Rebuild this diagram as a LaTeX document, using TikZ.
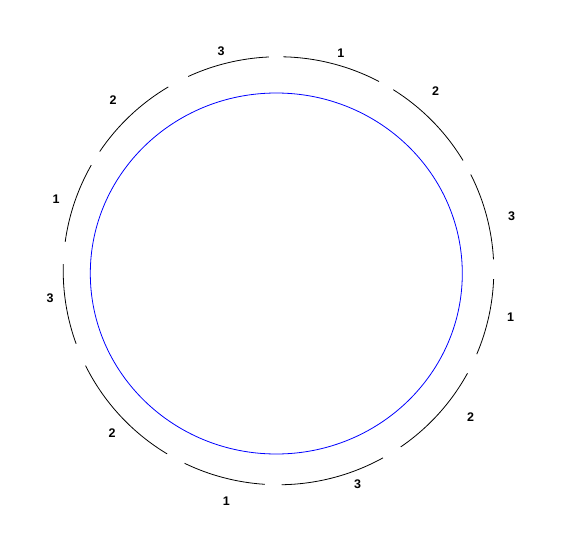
\documentclass[tikz,border=0pt]{standalone}
\usepackage{fontspec}
\setmainfont{Liberation Sans}
\begin{document}
\begin{tikzpicture}[x=1pt,y=1pt,
  ringarc/.style={black,line width=0.8pt},
  inner/.style={blue,line width=0.8pt},
  lbl/.style={font=\bfseries\fontsize{12.5}{14}\selectfont,inner sep=0pt}]
\useasboundingbox (0,0) rectangle (568,-533);
\coordinate (C) at (278.5,-270.75);
\coordinate (B) at (276.3,-273.5);
\draw[inner] (B) ellipse [x radius=186, y radius=180.5];
\foreach \a/\b in {3.05/26.72, 31.02/57.8, 62.17/88.7, 92.56/114.81,
  120.79/146.14, 150.44/172.23, 178.2/199.95, 206.33/238.84,
  244.14/266.38, 270.86/299.04, 304.59/331.37, 337.07/357.73}
  \draw[ringarc] ([shift={(\a:215.3 and 214)}]C) arc[start angle=\a, end angle=\b, x radius=215.3, y radius=214];
\node[lbl] (l1) at (221,-51.3) {3};
\node[lbl] (l2) at (340.8,-53.3) {1};
\node[lbl] (l3) at (435.7,-91) {2};
\node[lbl] (l4) at (511.7,-216) {3};
\node[lbl] (l5) at (510.7,-316.7) {1};
\node[lbl] (l6) at (470.7,-417) {2};
\node[lbl] (l7) at (357.7,-484.7) {3};
\node[lbl] (l8) at (226.3,-501.3) {1};
\node[lbl] (l9) at (112,-433) {2};
\node[lbl] (l10) at (50,-298.7) {3};
\node[lbl] (l11) at (56,-199.2) {1};
\node[lbl] (l12) at (113,-100) {2};
\end{tikzpicture}
\end{document}
